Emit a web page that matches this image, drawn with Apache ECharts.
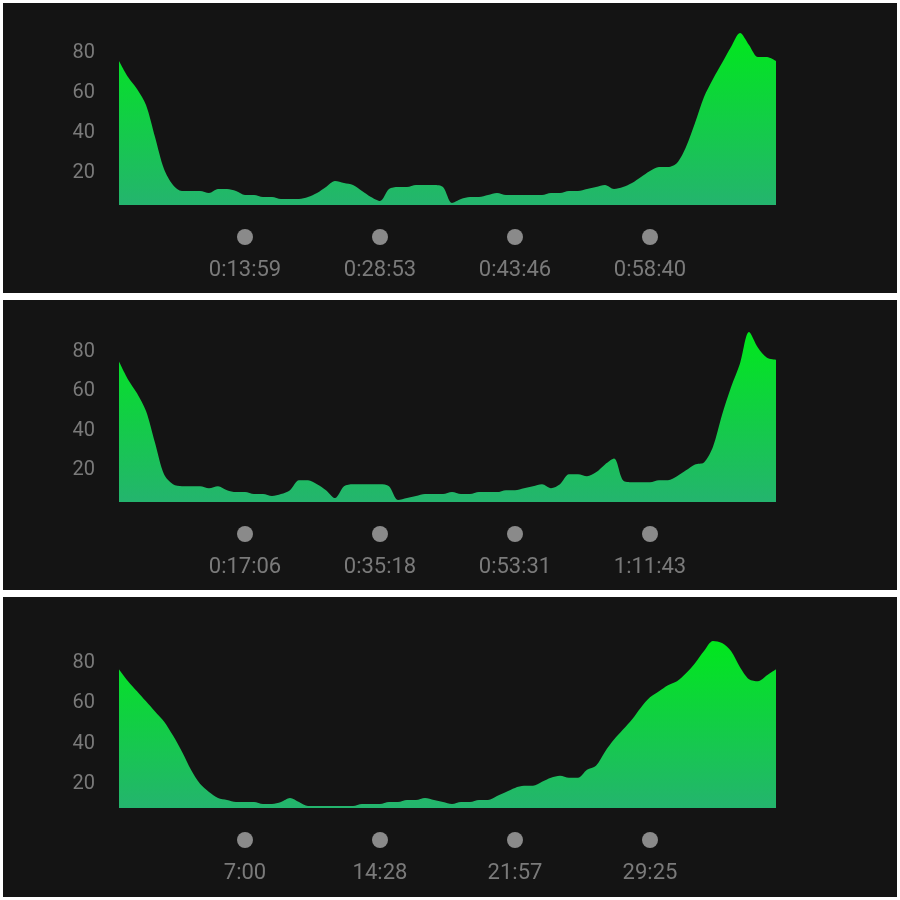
<!DOCTYPE html>
<html>
<head>
<meta charset="utf-8">
<script src="https://cdn.jsdelivr.net/npm/echarts@6/dist/echarts.min.js"></script>
<style>
  body { margin:0; background:#fff; width:900px; height:900px; position:relative; }
  .panel { position:absolute; left:3px; width:894px; background:#141414; }
</style>
</head>
<body>
<div class="panel" id="p1" style="top:3px;height:290px"></div>
<div class="panel" id="p2" style="top:300px;height:290px"></div>
<div class="panel" id="p3" style="top:597px;height:300px"></div>
<script>
// values sampled at 74 equally spaced points per workout
const values1 = [76,68,62,54,38,22,14,11,11,11,10,12,12,11,9,9,8,8,7,7,7,8,10,13,16,15,14,11,8,6,
  12,13,13,14,14,14,13,5,7,8,8,9,10,9,9,9,9,9,10,10,11,11,12,13,14,12,13,15,18,21,
  23,23,25,33,45,58,67,75,83,90,84,78,78,76];
const values2 = [75,66,59,50,34,18,13,12,12,12,11,12,10,9,9,8,8,7,8,10,15,15,13,10,6,12,13,13,13,13,
  12,5,6,7,8,8,8,9,8,8,9,9,9,10,10,11,12,13,11,13,18,18,17,19,23,26,15,14,14,14,
  15,15,17,20,23,24,32,48,62,74,90,82,77,76];
const values3 = [77,71,66,61,56,51,44,36,27,20,16,13,12,11,11,11,10,10,11,13,11,9,9,9,9,9,9,10,10,10,
  11,11,12,12,13,12,11,10,11,11,12,12,14,16,18,19,19,21,23,24,23,23,27,29,36,42,47,52,58,63,
  66,69,71,75,80,86,91,90,86,78,72,71,74,77];
const tickIdx = [14, 29, 44, 59];
const ticks1 = ['0:13:59', '0:28:53', '0:43:46', '0:58:40'];
const ticks2 = ['0:17:06', '0:35:18', '0:53:31', '1:11:43'];
const ticks3 = ['7:00', '14:28', '21:57', '29:25'];
const yLabels = [20, 40, 60, 80];

function draw(id, values, ticks, yMin, top, bottom) {
  let chart = echarts.init(document.getElementById(id));
  let cats = values.map((v, i) => i);
  chart.setOption({
    backgroundColor: '#141414',
    animation: false,
    grid: { left: 116, right: 121, top: top, bottom: bottom },
    xAxis: {
      type: 'category', data: cats, boundaryGap: false,
      axisLine: { show: false }, axisTick: { show: false }, splitLine: { show: false },
      axisLabel: {
        interval: (i) => tickIdx.includes(i),
        margin: 24,
        formatter: (v, i) => '{dot|}\n{t|' + ticks[tickIdx.indexOf(i)] + '}',
        rich: {
          dot: { backgroundColor: '#8a8a8a', width: 16, height: 16, borderRadius: 8, align: 'center' },
          t: { color: '#7a7a7a', fontSize: 22, lineHeight: 50, fontFamily: 'Roboto', align: 'center' }
        }
      }
    },
    yAxis: {
      type: 'value', min: yMin, max: 92, interval: 4,
      axisLine: { show: false }, axisTick: { show: false }, splitLine: { show: false },
      axisLabel: {
        margin: 24, color: '#7a7a7a', fontSize: 20, fontFamily: 'Roboto',
        formatter: (v) => yLabels.includes(v) ? String(v) : ''
      }
    },
    series: [{
      type: 'line', data: values, symbol: 'none', smooth: 0.3,
      lineStyle: { width: 0 },
      areaStyle: {
        opacity: 1,
        color: new echarts.graphic.LinearGradient(0, 0, 0, 1, [
          { offset: 0, color: '#00e81c' },
          { offset: 1, color: '#24b46e' }
        ])
      }
    }]
  });
}
draw('p1', values1, ticks1, 4, 26, 88);
draw('p2', values2, ticks2, 4, 28, 88);
draw('p3', values3, ticks3, 8, 42, 89);
</script>
</body>
</html>
